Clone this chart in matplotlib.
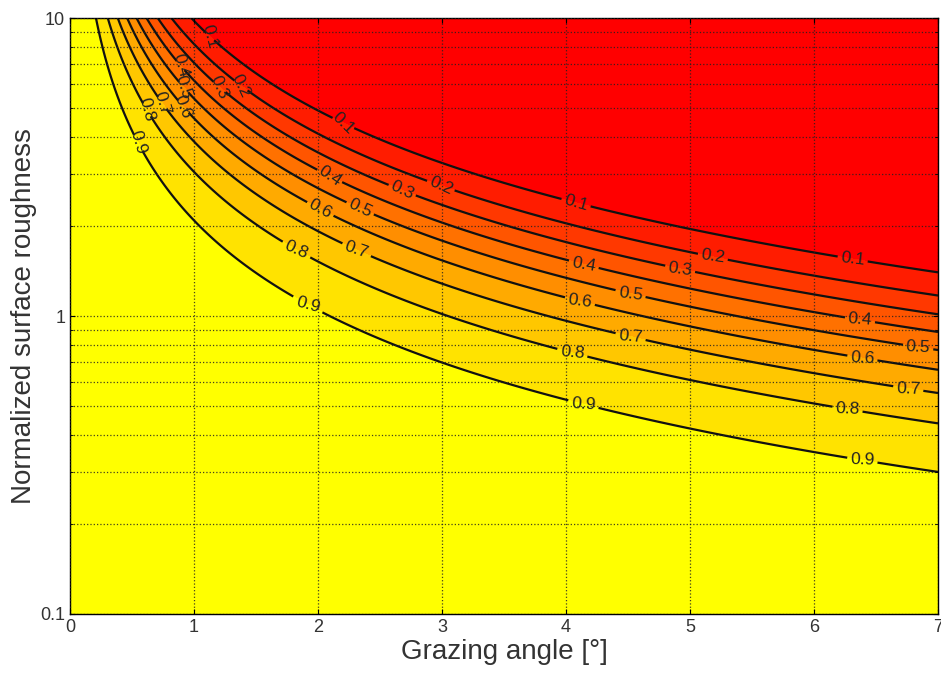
import numpy as np
import matplotlib
matplotlib.use("Agg")
import matplotlib.pyplot as plt
from matplotlib.colors import ListedColormap, BoundaryNorm

# ---- data ----
levels = [0.1, 0.2, 0.3, 0.4, 0.5, 0.6, 0.7, 0.8, 0.9]
fill_levels = [0.0, 0.1, 0.2, 0.3, 0.4, 0.5, 0.6, 0.7, 0.8, 0.9, 1.0001]
x_ticks = [0, 1, 2, 3, 4, 5, 6, 7]
y_ticks = [0.1, 1, 10]
y_tick_labels = ["0.1", "1", "10"]
x_limits = [0, 7]
y_limits = [0.1, 10]
# specular reflection (roughness) factor model: rho = exp(-2*(2*pi*h*sin(psi))^2)
roughness_coeff = 2.0

# label positions (grazing angle, roughness) per level
label_pos = {
    0.1: [(1.13, 8.66), (2.14, 4.31), (4.07, 2.32), (6.31, 1.52)],
    0.2: [(1.38, 5.94), (2.98, 2.69), (5.18, 1.52)],
    0.3: [(1.2, 5.87), (2.68, 2.65), (4.92, 1.43)],
    0.4: [(0.93, 6.95), (2.04, 2.79), (4.14, 1.45), (6.37, 0.947)],
    0.5: [(0.93, 5.87), (2.34, 2.30), (4.52, 1.18), (6.84, 0.787)],
    0.6: [(0.98, 5.1), (2.0, 2.22), (4.11, 1.09), (6.39, 0.711)],
    0.7: [(0.81, 5.23), (2.31, 1.66), (4.52, 0.83), (6.76, 0.556)],
    0.8: [(0.6, 4.91), (1.83, 1.69), (4.05, 0.728), (6.27, 0.480)],
    0.9: [(0.54, 3.81), (1.92, 1.11), (4.14, 0.491), (6.39, 0.321)],
}

ang = np.linspace(x_limits[0], x_limits[1], 500)
rough = np.logspace(np.log10(y_limits[0]), np.log10(y_limits[1]), 500)
A, R = np.meshgrid(ang, rough)
g = 2 * np.pi * R * np.sin(np.deg2rad(A))
Z = np.exp(-roughness_coeff * g ** 2)

plt.rcParams['font.family'] = ['Liberation Sans', 'DejaVu Sans']
fig = plt.figure(figsize=(9.41, 6.75), dpi=100)
ax = fig.add_axes([0.0744, 0.0904, 0.9224, 0.8829])

nb = len(fill_levels) - 1
band_cmap = ListedColormap(plt.get_cmap('autumn')(np.linspace(0, 1, nb)))
ax.contourf(A, R, Z, levels=fill_levels, cmap=band_cmap,
            norm=BoundaryNorm(fill_levels, nb), zorder=0)
for lv in levels:
    cs = ax.contour(A, R, Z, levels=[lv], colors='#111111', linewidths=1.6, zorder=2)
    ax.clabel(cs, manual=label_pos[lv], fmt='%.1f', fontsize=12.5,
              inline=True, inline_spacing=3, colors='#222222')

ax.set_yscale('log')
ax.set_xlim(x_limits)
ax.set_ylim(y_limits)
ax.set_xticks(x_ticks)
ax.set_xticklabels([str(t) for t in x_ticks])
ax.set_yticks(y_ticks)
ax.set_yticklabels(y_tick_labels)
ax.tick_params(which='both', direction='in', labelsize=13, top=True, right=True,
               labelcolor='#333333')
ax.tick_params(which='minor', labelleft=False)
ax.set_axisbelow(False)
ax.grid(True, which='both', linestyle=':', color='#222222', linewidth=0.9, alpha=0.85)

ax.set_xlabel('Grazing angle [°]', fontsize=20, labelpad=2, color='#333333')
ax.set_ylabel('Normalized surface roughness', fontsize=20, labelpad=2, color='#333333')
for s in ax.spines.values():
    s.set_linewidth(1.0)

fig.savefig('out.png', dpi=100)
